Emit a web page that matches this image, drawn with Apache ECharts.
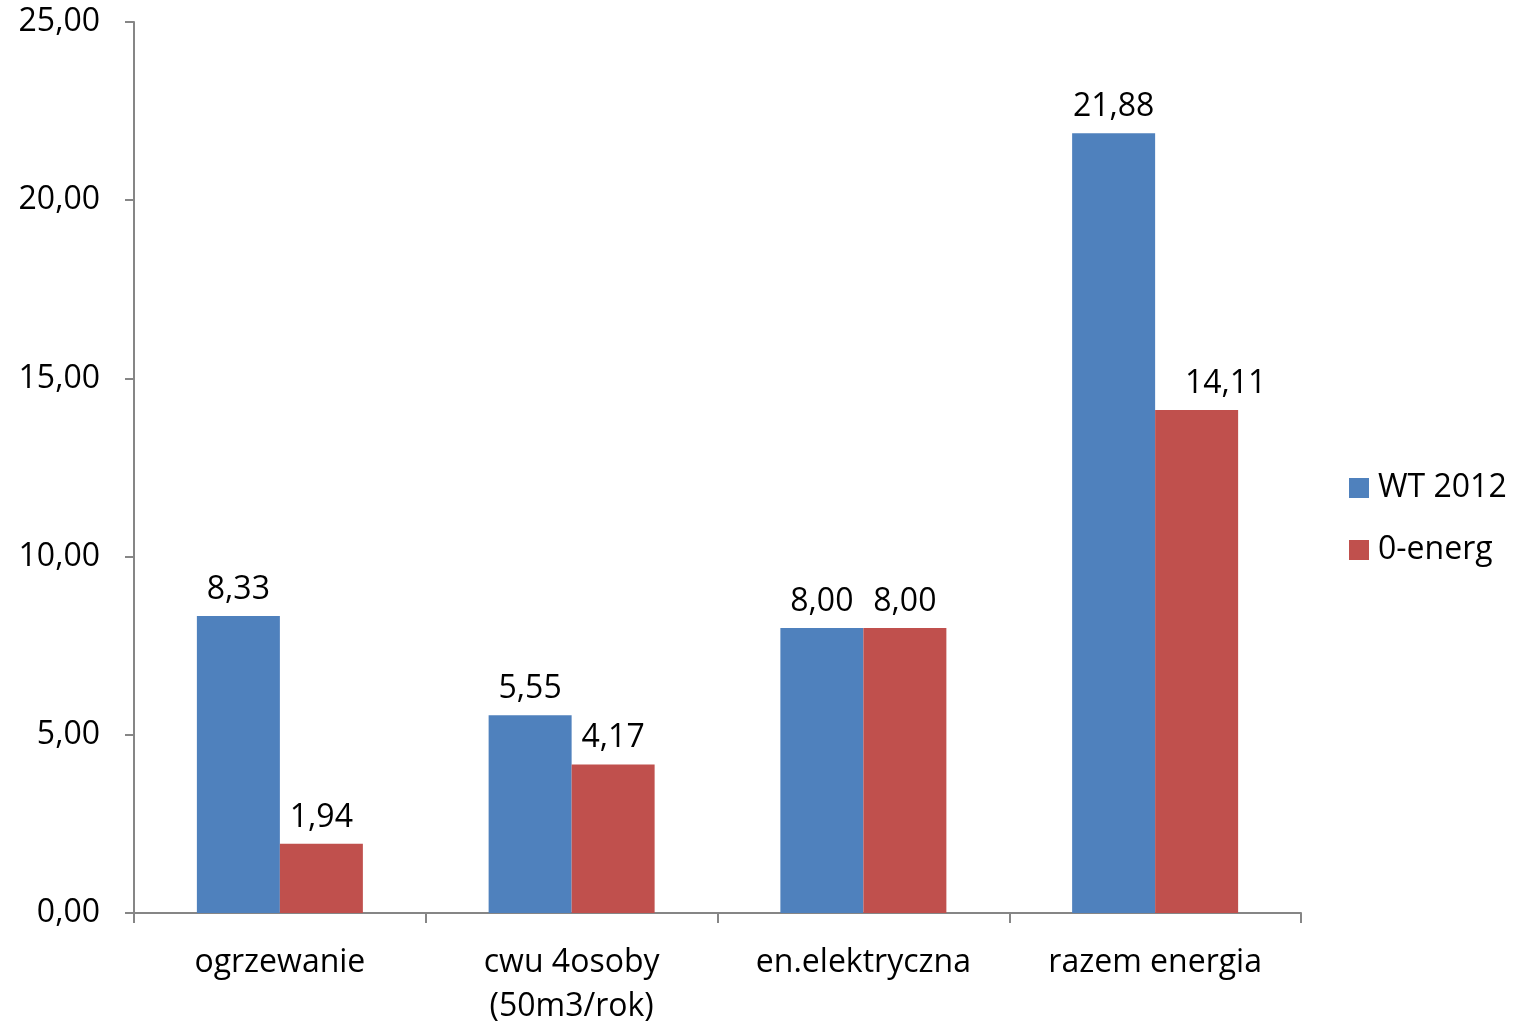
<!DOCTYPE html>
<html>
<head>
<meta charset="utf-8">
<script src="https://cdn.jsdelivr.net/npm/echarts@6/dist/echarts.min.js"></script>
<style>
  html, body { margin: 0; padding: 0; background: #fff; }
  #chart { width: 1524px; height: 1024px; }
</style>
</head>
<body>
<div id="chart"></div>
<script>
const categories = ['ogrzewanie', 'cwu 4osoby\n(50m3/rok)', 'en.elektryczna', 'razem energia'];
const wt2012 = [8.33, 5.55, 8.00, 21.88];
const zeroEnerg = [1.94, 4.17, 8.00, 14.11];
const seriesNames = ['WT 2012', '0-energ'];

const fontFamily = 'Open Sans, Lato, sans-serif';
const fmt = (v) => v.toFixed(2).replace('.', ',');

const chart = echarts.init(document.getElementById('chart'));

const labelCfg = {
  show: true,
  position: 'top',
  distance: 10,
  color: '#000',
  fontSize: 32,
  fontFamily,
  formatter: (p) => fmt(p.value),
};

// last red label sits a bit to the right in the original
const redData = zeroEnerg.map((v, i) => (i === 3 ? { value: v, label: { offset: [29, 0] } } : v));

chart.setOption({
  animation: false,
  textStyle: { fontFamily },
  grid: {
    left: 134,
    right: 223,
    top: 22,
    bottom: 111,
    containLabel: false,
    outerBoundsMode: 'none',
  },
  legend: {
    orient: 'vertical',
    left: 1344,
    top: 467,
    itemWidth: 20,
    itemHeight: 20,
    itemGap: 30,
    icon: 'rect',
    textStyle: { fontSize: 32, color: '#000', fontFamily, padding: [0, 0, 0, 4] },
    data: seriesNames,
  },
  xAxis: {
    type: 'category',
    data: categories,
    axisLine: { lineStyle: { color: '#868686', width: 2 } },
    axisTick: { show: true, length: 10, lineStyle: { color: '#868686', width: 2 } },
    axisLabel: {
      color: '#000',
      fontSize: 32,
      fontFamily,
      margin: 28,
      lineHeight: 44,
    },
  },
  yAxis: {
    type: 'value',
    min: 0,
    max: 25,
    interval: 5,
    splitLine: { show: false },
    axisLine: { show: true, lineStyle: { color: '#868686', width: 2 } },
    axisTick: { show: true, length: 9, lineStyle: { color: '#868686', width: 2 } },
    axisLabel: {
      color: '#000',
      fontSize: 32,
      fontFamily,
      margin: 34,
      formatter: (v) => fmt(v),
    },
  },
  series: [
    {
      name: seriesNames[0],
      type: 'bar',
      data: wt2012,
      barWidth: 83,
      barGap: '0%',
      itemStyle: { color: '#4f81bd' },
      label: labelCfg,
    },
    {
      name: seriesNames[1],
      type: 'bar',
      data: redData,
      barWidth: 83,
      itemStyle: { color: '#c0504d' },
      label: labelCfg,
    },
  ],
});
</script>
</body>
</html>
